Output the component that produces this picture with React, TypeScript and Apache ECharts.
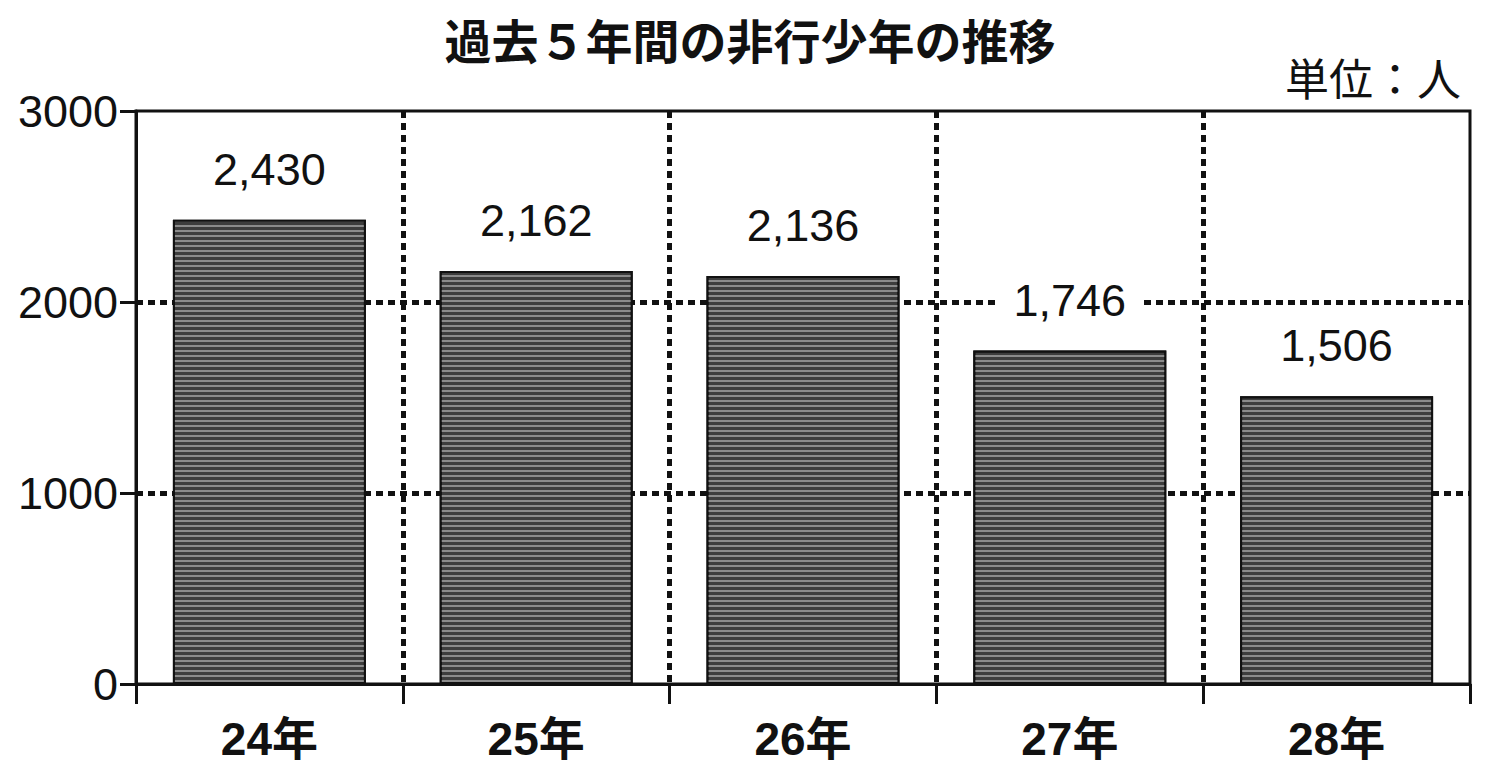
import { useEffect, useRef } from 'react'
import * as echarts from 'echarts'

const years = ['24年', '25年', '26年', '27年', '28年']
const juveniles = [2430, 2162, 2136, 1746, 1506]
const yTicks = { min: 0, max: 3000, interval: 1000 }

const latin = '"Liberation Sans", Arial, "Noto Sans CJK JP", sans-serif'
const gothic = '"Noto Sans CJK JP", "Liberation Sans", sans-serif'

export default function App() {
  const ref = useRef<HTMLDivElement>(null)

  useEffect(() => {
    if (!ref.current) return
    const chart = echarts.init(ref.current, null, { renderer: 'svg' })

    // dotted grid like the scanned original: fat square dots
    const dots = { color: '#111', width: 5, type: [7, 5] }

    chart.setOption({
      animation: false,
      backgroundColor: '#fff',
      aria: { enabled: true, decal: { show: true } },
      title: [
        {
          text: '過去５年間の非行少年の推移',
          left: 'center',
          top: 10,
          textStyle: { fontFamily: gothic, fontSize: 47, fontWeight: 'bold', color: '#111' },
        },
        {
          text: '単位：人',
          right: 34,
          top: 50,
          textStyle: { fontFamily: gothic, fontSize: 44, fontWeight: 'normal', color: '#111' },
        },
      ],
      grid: {
        left: 136, right: 30, top: 111, bottom: 83,
        show: true, borderColor: '#111', borderWidth: 3, backgroundColor: 'transparent',
      },
      xAxis: {
        type: 'category',
        data: years,
        axisLine: { lineStyle: { color: '#111', width: 3 } },
        axisTick: { show: true, length: 20, lineStyle: { color: '#111', width: 3 } },
        axisLabel: {
          margin: 32,
          fontFamily: latin, fontSize: 46, fontWeight: 'bold', color: '#111',
        },
        splitLine: { show: true, showMinLine: false, showMaxLine: false, lineStyle: dots },
      },
      yAxis: {
        type: 'value',
        ...yTicks,
        axisLine: { show: true, lineStyle: { color: '#111', width: 3 } },
        axisTick: { show: true, length: 16, lineStyle: { color: '#111', width: 3 } },
        axisLabel: {
          margin: 18,
          formatter: (v: number) => String(v),
          fontFamily: latin, fontSize: 45, color: '#111',
        },
        splitLine: { show: true, showMinLine: false, showMaxLine: false, lineStyle: dots },
      },
      series: [
        {
          type: 'bar',
          data: juveniles,
          barWidth: 193,
          itemStyle: {
            color: '#3d3d3d',
            borderColor: '#111',
            borderWidth: 2,
            decal: {
              symbol: 'rect',
              symbolSize: 1,
              color: 'rgba(255,255,255,0.4)',
              dashArrayX: [1, 0],
              dashArrayY: [2, 3],
              rotation: 0,
            },
          },
          label: {
            show: true,
            position: 'top',
            distance: 28,
            formatter: (p: any) => Number(p.value).toLocaleString('en-US'),
            fontFamily: latin, fontSize: 45, color: '#111',
            backgroundColor: '#fff',
            padding: [0, 14],
          },
        },
      ],
    })

    return () => chart.dispose()
  }, [])

  return (
    <div
      ref={ref}
      style={{ position: 'fixed', left: 0, top: 0, width: 1500, height: 767 }}
    />
  )
}
